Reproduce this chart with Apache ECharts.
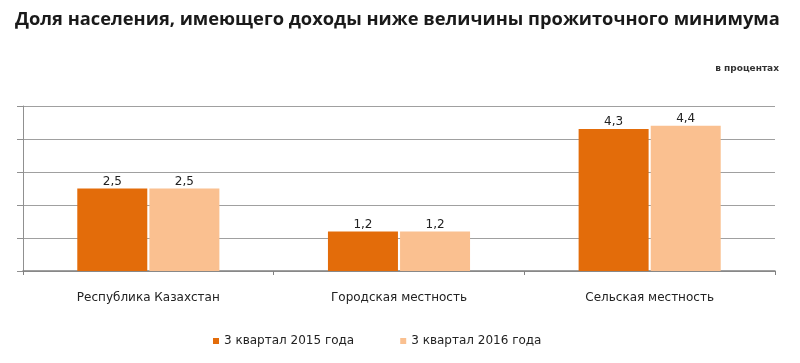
<!DOCTYPE html>
<html><head><meta charset="utf-8">
<script src="https://cdn.jsdelivr.net/npm/echarts@6/dist/echarts.min.js"></script>
<style>html,body{margin:0;padding:0;background:#fff}#c{width:800px;height:363px}</style>
</head><body><div id="c"></div>
<script>
var categories = ['Республика Казахстан', 'Городская местность', 'Сельская местность'];
var series2015 = [2.5, 1.2, 4.3];
var series2016 = [2.5, 1.2, 4.4];
var seriesNames = ['3 квартал 2015 года', '3 квартал 2016 года'];
var titleText = 'Доля населения, имеющего доходы ниже величины прожиточного минимума';
var unitText = 'в процентах';

var chart = echarts.init(document.getElementById('c'), null, {renderer: 'canvas'});
var lbl = {show: true, position: 'top', distance: 1, fontSize: 12, color: '#222', fontFamily: 'DejaVu Sans',
  formatter: function(p){ return String(p.value).replace('.', ','); }};
chart.setOption({
  animation: false,
  title: [
    {text: titleText, left: 10, top: 6, textStyle: {fontSize: 18.3, fontWeight: 'bold', color: '#1a1a1a', fontFamily: 'Open Sans'}},
    {text: unitText, right: 16, top: 59, textStyle: {fontSize: 9, fontWeight: 'bold', color: '#333', fontFamily: 'DejaVu Sans'}}
  ],
  grid: {left: 23, right: 25, top: 106, bottom: 92},
  legend: {
    bottom: 11, left: 208, itemWidth: 6, itemHeight: 6, itemGap: 46, icon: 'rect',
    textStyle: {fontSize: 12, color: '#222', fontFamily: 'DejaVu Sans'},
    data: seriesNames
  },
  xAxis: {
    type: 'category', data: categories,
    axisLine: {lineStyle: {color: '#808080', width: 1.5}},
    axisTick: {show: true, length: 4, lineStyle: {color: '#808080'}},
    axisLabel: {fontSize: 12, color: '#222', margin: 21, fontFamily: 'DejaVu Sans'}
  },
  yAxis: {
    type: 'value', min: 0, max: 5, interval: 1,
    axisLine: {show: true, lineStyle: {color: '#909090'}},
    axisTick: {show: true, length: 6, lineStyle: {color: '#909090'}},
    axisLabel: {show: false},
    splitLine: {lineStyle: {color: '#a0a0a0', width: 1}}
  },
  series: [
    {name: seriesNames[0], type: 'bar', data: series2015, barWidth: 70, barGap: '3%',
     itemStyle: {color: '#E36C0A'}, label: lbl},
    {name: seriesNames[1], type: 'bar', data: series2016, barWidth: 70,
     itemStyle: {color: '#FAC090'}, label: lbl}
  ]
});
</script></body></html>
